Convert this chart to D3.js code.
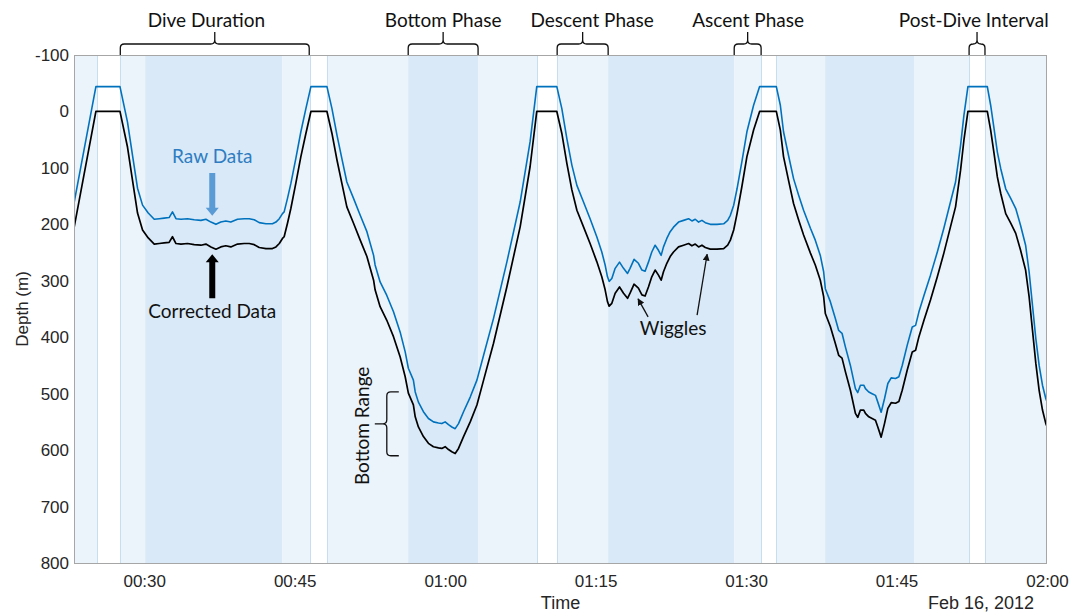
<!DOCTYPE html>
<html>
<head>
<meta charset="utf-8">
<script src="https://cdn.jsdelivr.net/npm/d3@7"></script>
<style>
  body { margin: 0; background: #fff; }
  svg text { font-family: "Liberation Sans", Arial, sans-serif; }
  .note { font-family: Lato, "Open Sans", sans-serif; font-size: 19px; fill: #111; }
</style>
</head>
<body>
<div id="chart"></div>
<script>
var w = 1084;
var h = 612;
var marginLeft = 74;
var marginRight = 37;
var marginTop = 55;
var marginBottom = 49;

// minutes after midnight, Feb 16 2012
var timeMin = [23.02, 25.19, 27.58, 28.34, 28.83, 29.33, 29.83, 30.40, 31.00,
  31.50, 31.99, 32.49, 32.82, 33.16, 33.66, 34.32, 34.98, 35.65, 36.15, 36.65, 37.15,
  37.64, 38.14, 38.64, 39.30, 39.97, 40.47, 40.96, 41.46, 42.13, 42.79, 43.13, 43.46,
  43.78, 43.95, 44.28, 44.62, 45.12, 45.62, 46.12, 46.61,
  48.21,
  48.71, 49.21, 49.70, 50.20, 50.86, 51.53, 52.20, 52.86, 53.02, 53.52, 54.19, 54.85,
  55.52, 56.01, 56.34, 56.84, 57.01, 57.34, 57.84, 58.34, 58.83, 59.33, 59.67, 60.00,
  60.33, 60.67, 61.00, 61.33, 61.83, 62.50, 63.17, 63.83, 64.82, 66.15, 67.48, 68.47, 69.14,
  71.13,
  71.63, 72.13, 72.63, 73.13, 73.79, 74.45, 75.12, 75.62, 75.95, 76.18, 76.35, 76.62,
  76.95, 77.38, 77.78, 78.18, 78.44, 78.84, 79.27, 79.61, 79.94, 80.26, 80.60, 80.93,
  81.26, 81.53, 81.76, 82.10, 82.43, 82.76, 83.26, 83.76, 84.26, 84.60, 84.93, 85.26,
  85.60, 85.93, 86.43, 87.10, 87.76, 88.16, 88.43, 88.76, 89.10, 89.59, 90.09, 90.75, 91.35,
  93.01,
  93.41, 93.74, 94.24, 94.74, 95.24, 95.74, 96.41, 96.90, 97.40, 97.73, 97.90, 98.40,
  98.90, 99.23, 99.57, 99.90, 100.40, 100.90, 101.13, 101.40, 101.73, 101.90, 102.23,
  102.57, 102.90, 103.13, 103.47, 103.80, 104.13, 104.47, 104.90, 105.23, 105.57, 106.07,
  106.57, 106.90, 107.23, 107.73, 108.39, 109.06, 109.72, 110.39, 110.89, 111.39, 111.72, 112.12,
  114.05,
  114.38, 114.71, 115.05, 115.38, 115.88, 116.38, 116.88, 117.37, 117.87, 118.21, 118.55,
  118.88, 119.21, 119.55, 119.88, 120.00];

// corrected depth (m)
var corrected = [205, 0, 0, 63, 122, 180, 210, 224, 235,
  234, 233, 232, 222, 234, 235, 234, 236, 237, 235, 240, 244,
  240, 238, 240, 235, 234, 234, 236, 241, 243, 243, 240, 234,
  225, 222, 198, 172, 127, 80, 39, 0,
  0,
  39, 86, 127, 169, 198, 228, 257, 299, 316, 346, 370, 399,
  435, 470, 499, 520, 541, 559, 576, 588, 594, 596, 597, 594,
  599, 603, 606, 597, 576, 550, 520, 476, 411, 311, 204, 98, 0,
  0,
  39, 92, 139, 175, 204, 234, 266, 293, 316, 337, 345, 340,
  322, 311, 322, 331, 322, 306, 313, 325, 327, 311, 293, 281,
  290, 299, 284, 269, 257, 249, 240, 237, 234, 238, 235, 240,
  237, 241, 244, 244, 243, 237, 228, 210, 181, 133, 80, 33, 0,
  0,
  33, 80, 122, 163, 192, 219, 251, 272, 299, 328, 358, 381,
  411, 432, 437, 461, 494, 535, 542, 529, 529, 535, 541,
  544, 547, 559, 577, 553, 526, 516, 517, 514, 494, 458,
  426, 423, 399, 370, 334, 293, 251, 204, 169, 104, 51, 0,
  0,
  33, 74, 116, 145, 181, 198, 216, 246, 281, 328, 387,
  446, 494, 529, 553, 558];

// raw depth (m), before the zero-offset correction
var raw = [161, -44, -44, 19, 78, 136, 166, 180, 191,
  190, 189, 188, 178, 190, 191, 190, 192, 193, 191, 196, 200,
  196, 194, 196, 191, 190, 190, 192, 197, 199, 199, 196, 190,
  181, 178, 154, 128, 83, 36, -5, -44,
  -44,
  -5, 42, 83, 125, 154, 184, 213, 255, 272, 302, 326, 355,
  391, 426, 455, 476, 497, 515, 532, 544, 550, 552, 553, 550,
  555, 559, 562, 553, 532, 506, 476, 432, 367, 267, 160, 54, -44,
  -44,
  -5, 48, 95, 131, 160, 190, 222, 249, 272, 293, 301, 296,
  278, 267, 278, 287, 278, 262, 269, 281, 283, 267, 249, 237,
  246, 255, 240, 225, 213, 205, 196, 193, 190, 194, 191, 196,
  193, 197, 200, 200, 199, 193, 184, 166, 137, 89, 36, -11, -44,
  -44,
  -11, 36, 78, 119, 148, 175, 207, 228, 255, 284, 314, 337,
  367, 388, 393, 417, 450, 491, 498, 485, 485, 491, 497,
  500, 503, 515, 533, 509, 482, 472, 473, 470, 450, 414,
  382, 379, 355, 326, 290, 249, 207, 160, 125, 60, 7, -44,
  -44,
  -11, 30, 72, 101, 137, 154, 172, 202, 237, 284, 343,
  402, 450, 485, 509, 514];

// dive phases shown as shaded bands
var phaseStart = [23.00, 27.61, 30.10, 43.75, 48.24, 56.31, 63.29, 71.16, 76.25, 88.81, 93.00, 97.88, 106.75, 113.82];
var phaseEnd   = [25.32, 30.10, 43.75, 46.55, 56.31, 63.29, 69.17, 76.25, 88.81, 91.50, 97.88, 106.75, 112.23, 120.00];
var phaseType  = ["ascent", "descent", "bottom", "ascent", "descent", "bottom", "ascent",
                  "descent", "bottom", "ascent", "descent", "bottom", "ascent", "descent"];

var surfaceStart = [25.32, 46.55, 69.17, 91.50, 112.23];
var surfaceEnd   = [27.61, 48.24, 71.16, 93.00, 113.82];

var depthTicks = [-100, 0, 100, 200, 300, 400, 500, 600, 700, 800];
var timeTicks = [30, 45, 60, 75, 90, 105, 120];

var braceLabels = ["Dive Duration", "Bottom Phase", "Descent Phase", "Ascent Phase", "Post-Dive Interval"];
var braceFrom = [27.61, 56.31, 71.16, 88.81, 112.23];
var braceTo   = [46.45, 63.29, 76.25, 91.50, 113.82];
var braceLabelAt = [36.2, 59.8, 74.65, 90.2, 112.7];

var bottomRange = [497, 610];

var colors = { descent: "#ebf3fb", ascent: "#ebf3fb", bottom: "#d9e9f7" };

function toDate(m) {
  return new Date(2012, 1, 16, 0, 0, Math.round(m * 60));
}

function initChart() {
  var svg = d3.select("#chart")
    .append("svg")
    .attr("width", w)
    .attr("height", h);

  var x = d3.scaleTime()
    .domain([toDate(23), toDate(120)])
    .range([marginLeft, w - marginRight]);

  var y = d3.scaleLinear()
    .domain([-100, 800])
    .range([marginTop, h - marginBottom]);

  svg.append("clipPath").attr("id", "plot")
    .append("rect")
    .attr("x", marginLeft).attr("y", marginTop)
    .attr("width", w - marginRight - marginLeft)
    .attr("height", h - marginBottom - marginTop);

  // phase bands
  svg.append("g").selectAll("rect")
    .data(phaseStart)
    .enter().append("rect")
    .attr("x", function(d) { return x(toDate(d)); })
    .attr("y", marginTop)
    .attr("width", function(d, i) { return x(toDate(phaseEnd[i])) - x(toDate(d)); })
    .attr("height", h - marginBottom - marginTop)
    .attr("fill", function(d, i) { return colors[phaseType[i]]; });

  // faint edges around the surface intervals
  var edges = surfaceStart.concat(surfaceEnd);
  svg.append("g").selectAll("line")
    .data(edges)
    .enter().append("line")
    .attr("x1", function(d) { return Math.round(x(toDate(d))) + 0.5; })
    .attr("x2", function(d) { return Math.round(x(toDate(d))) + 0.5; })
    .attr("y1", marginTop)
    .attr("y2", h - marginBottom)
    .attr("stroke", "#c9ddf1")
    .attr("stroke-width", 1);

  var depthLine = d3.line()
    .x(function(d, i) { return x(toDate(timeMin[i])); })
    .y(function(d) { return y(d); });

  var lines = svg.append("g").attr("clip-path", "url(#plot)");

  lines.append("path")
    .attr("d", depthLine(raw))
    .attr("fill", "none")
    .attr("stroke", "#0072bd")
    .attr("stroke-width", 1.6)
    .attr("stroke-linejoin", "round");

  lines.append("path")
    .attr("d", depthLine(corrected))
    .attr("fill", "none")
    .attr("stroke", "#000")
    .attr("stroke-width", 1.7)
    .attr("stroke-linejoin", "round");

  // axes box
  svg.append("rect")
    .attr("x", marginLeft + 0.5)
    .attr("y", marginTop + 0.5)
    .attr("width", w - marginRight - marginLeft - 1)
    .attr("height", h - marginBottom - marginTop)
    .attr("fill", "none")
    .attr("stroke", "#a6a6a6");

  var xAxis = svg.append("g")
    .attr("transform", "translate(0," + (h - marginBottom) + ")")
    .call(d3.axisBottom(x)
      .tickValues(timeTicks.map(toDate))
      .tickFormat(d3.timeFormat("%H:%M"))
      .tickSize(0)
      .tickPadding(12));
  xAxis.select(".domain").remove();
  xAxis.selectAll("text").attr("font-size", 17).attr("fill", "#262626");

  var yAxis = svg.append("g")
    .attr("transform", "translate(" + marginLeft + ",0)")
    .call(d3.axisLeft(y)
      .tickValues(depthTicks)
      .tickFormat(function(d) { return String(d); })
      .tickSize(0)
      .tickPadding(5));
  yAxis.select(".domain").remove();
  yAxis.selectAll("text").attr("font-size", 17).attr("fill", "#262626");

  svg.append("text")
    .attr("transform", "translate(28," + ((marginTop + h - marginBottom) / 2) + ") rotate(-90)")
    .attr("text-anchor", "middle")
    .attr("font-size", 17)
    .attr("fill", "#262626")
    .text("Depth (m)");

  svg.append("text")
    .attr("x", (marginLeft + w - marginRight) / 2)
    .attr("y", 609)
    .attr("text-anchor", "middle")
    .attr("font-size", 18)
    .attr("fill", "#262626")
    .text("Time");

  svg.append("text")
    .attr("x", 981)
    .attr("y", 609)
    .attr("text-anchor", "middle")
    .attr("font-size", 18)
    .attr("fill", "#262626")
    .text("Feb 16, 2012");

  drawNotes(svg, x, y);
}

function bracePath(x1, x2, cx) {
  var b = marginTop, t = 44, tip = 32;
  return "M" + x1 + "," + b + " V" + (t + 4) + " Q" + x1 + "," + t + " " + (x1 + 4) + "," + t +
    " H" + (cx - 4) + " Q" + cx + "," + t + " " + cx + "," + (t - 4) + " V" + tip +
    " M" + cx + "," + (t - 4) + " Q" + cx + "," + t + " " + (cx + 4) + "," + t +
    " H" + (x2 - 4) + " Q" + x2 + "," + t + " " + x2 + "," + (t + 4) + " V" + b;
}

function drawNotes(svg, x, y) {
  var g = svg.append("g");

  g.selectAll("path.brace")
    .data(braceLabels)
    .enter().append("path")
    .attr("class", "brace")
    .attr("d", function(d, i) {
      var x1 = x(toDate(braceFrom[i])), x2 = x(toDate(braceTo[i]));
      return bracePath(x1, x2, (x1 + x2) / 2);
    })
    .attr("fill", "none")
    .attr("stroke", "#111")
    .attr("stroke-width", 1.3);

  g.selectAll("text.brace")
    .data(braceLabels)
    .enter().append("text")
    .attr("class", "note")
    .attr("x", function(d, i) { return x(toDate(braceLabelAt[i])); })
    .attr("y", 27)
    .attr("text-anchor", "middle")
    .text(function(d) { return d; });

  // bottom range brace (vertical)
  var bx = x(toDate(54.19)), y1 = y(bottomRange[0]), y2 = y(bottomRange[1]);
  var cy = (y1 + y2) / 2;
  g.append("path")
    .attr("d", "M" + (bx + 12) + "," + y1 + " H" + (bx + 4) + " Q" + bx + "," + y1 + " " + bx + "," + (y1 + 4) +
      " V" + (cy - 4) + " Q" + bx + "," + cy + " " + (bx - 4) + "," + cy + " H" + (bx - 12) +
      " M" + (bx - 4) + "," + cy + " Q" + bx + "," + cy + " " + bx + "," + (cy + 4) +
      " V" + (y2 - 4) + " Q" + bx + "," + y2 + " " + (bx + 4) + "," + y2 + " H" + (bx + 12))
    .attr("fill", "none")
    .attr("stroke", "#111")
    .attr("stroke-width", 1.3);

  g.append("text")
    .attr("class", "note")
    .attr("transform", "translate(" + (bx - 18) + "," + (cy + 2) + ") rotate(-90)")
    .attr("text-anchor", "middle")
    .text("Bottom Range");

  // raw / corrected callouts
  var ax = x(toDate(36.78));
  g.append("text")
    .attr("class", "note")
    .attr("x", ax).attr("y", y(91))
    .attr("text-anchor", "middle")
    .style("fill", "#2e7dc2")
    .text("Raw Data");

  g.append("path")
    .attr("d", blockArrow(ax, y(109), y(185)))
    .attr("fill", "#5b9bd5");

  g.append("path")
    .attr("d", blockArrow(ax, y(331), y(253)))
    .attr("fill", "#000");

  g.append("text")
    .attr("class", "note")
    .attr("x", ax).attr("y", y(366))
    .attr("text-anchor", "middle")
    .text("Corrected Data");

  // wiggles
  svg.append("defs").append("marker")
    .attr("id", "head")
    .attr("viewBox", "0 0 10 10")
    .attr("refX", 9).attr("refY", 5)
    .attr("markerWidth", 7).attr("markerHeight", 7)
    .attr("markerUnits", "userSpaceOnUse")
    .attr("orient", "auto")
    .append("path")
    .attr("d", "M0,0 L10,5 L0,10 z")
    .attr("fill", "#111");

  g.append("text")
    .attr("class", "note")
    .attr("x", x(toDate(82.73))).attr("y", y(396))
    .attr("text-anchor", "middle")
    .text("Wiggles");

  var wig = [[80.23, 364, 79.24, 332], [85.12, 361, 86.11, 253]];
  g.selectAll("line.wig")
    .data(wig)
    .enter().append("line")
    .attr("x1", function(d) { return x(toDate(d[0])); })
    .attr("y1", function(d) { return y(d[1]); })
    .attr("x2", function(d) { return x(toDate(d[2])); })
    .attr("y2", function(d) { return y(d[3]); })
    .attr("stroke", "#111")
    .attr("stroke-width", 1.3)
    .attr("marker-end", "url(#head)");
}

// thick arrow from tail to tip (vertical)
function blockArrow(cx, tail, tip) {
  var dir = tip > tail ? 1 : -1;
  var neck = tip - dir * 8;
  return "M" + (cx - 3) + "," + tail + " L" + (cx + 3) + "," + tail +
    " L" + (cx + 3) + "," + neck + " L" + (cx + 6.5) + "," + neck +
    " L" + cx + "," + tip + " L" + (cx - 6.5) + "," + neck +
    " L" + (cx - 3) + "," + neck + " Z";
}

initChart();
</script>
</body>
</html>
